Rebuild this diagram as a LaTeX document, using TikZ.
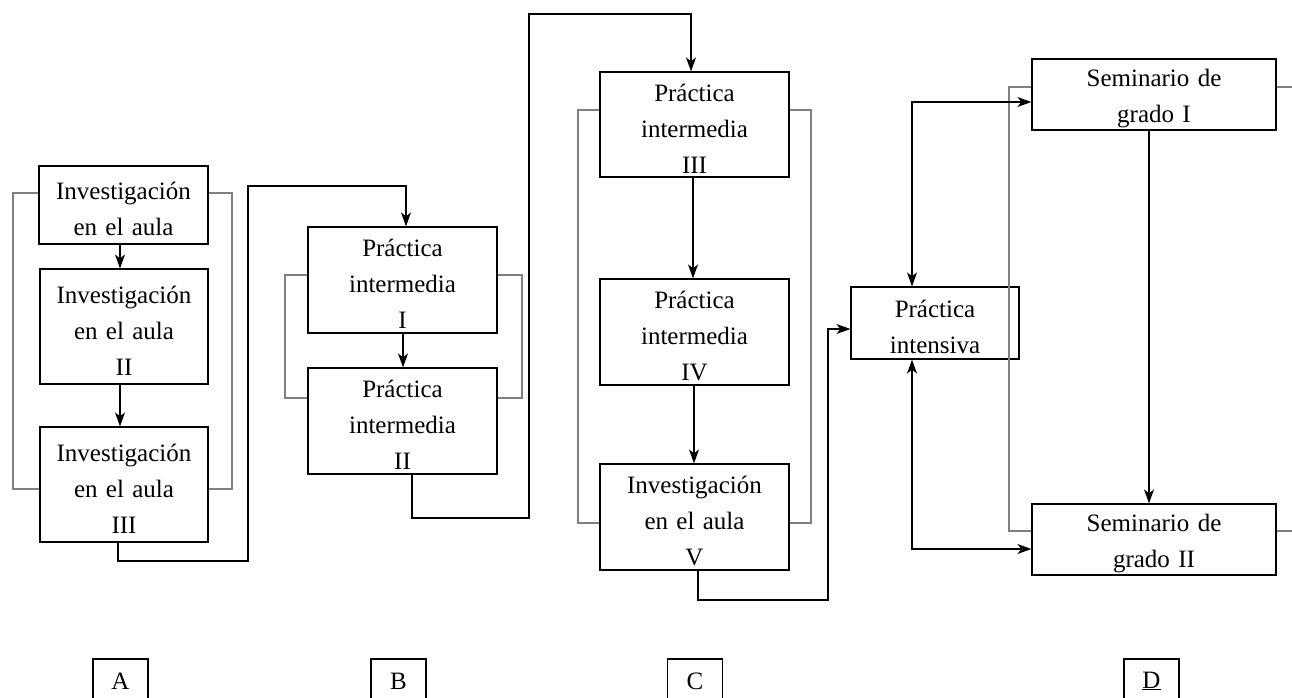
\documentclass[tikz,border=0pt]{standalone}
\usepackage{fontspec}
\setmainfont{Liberation Serif}
\usetikzlibrary{arrows.meta}
\begin{document}
\begin{tikzpicture}[x=1pt,y=-1pt,
  box/.style={draw=black,line width=1.2pt,rectangle,inner sep=0pt,align=center,
    font=\fontsize{25}{36}\selectfont,text height=25pt},
  lbl/.style={draw=black,line width=1.2pt,rectangle,inner sep=0pt,
    minimum width=55pt,minimum height=44pt,font=\fontsize{25}{28}\selectfont},
  conn/.style={line width=1.2pt,-{Stealth[length=14pt,width=10pt,inset=4pt]}},
  dconn/.style={line width=1.2pt,{Stealth[length=14pt,width=10pt,inset=4pt]}-{Stealth[length=14pt,width=10pt,inset=4pt]}},
  brk/.style={draw=gray,line width=1.1pt}]
\useasboundingbox (0,0) rectangle (1292,697);
\clip (0,0) rectangle (1292,697);

% nodes column A
\node[box,minimum width=169pt,minimum height=78pt,text width=169pt] (a1) at (123.5,205) {Investigación\\en el aula};
\node[box,minimum width=168pt,minimum height=115pt,text width=168pt] (a2) at (124,326.5) {Investigación\\en el aula\\II};
\node[box,minimum width=168pt,minimum height=115pt,text width=168pt] (a3) at (124,484.5) {Investigación\\en el aula\\III};
% column B
\node[box,minimum width=189pt,minimum height=106pt,text width=189pt] (b1) at (402.5,280) {Práctica\\intermedia\\I};
\node[box,minimum width=189pt,minimum height=106pt,text width=189pt] (b2) at (402.5,421) {Práctica\\intermedia\\II};
% column C
\node[box,minimum width=189pt,minimum height=105pt,text width=189pt] (c1) at (694.5,124.5) {Práctica\\intermedia\\III};
\node[box,minimum width=189pt,minimum height=106pt,text width=189pt] (c2) at (694.5,332) {Práctica\\intermedia\\IV};
\node[box,minimum width=189pt,minimum height=106pt,text width=189pt] (c3) at (694.5,517) {Investigación\\en el aula\\V};
% column D
\node[box,minimum width=168pt,minimum height=72pt,text width=168pt] (pi) at (935,323) {Práctica\\intensiva};
\node[box,minimum width=244pt,minimum height=71pt,text width=244pt] (s1) at (1154,94.5) {Seminario de\\grado I};
\node[box,minimum width=244pt,minimum height=71pt,text width=244pt] (s2) at (1154,539.5) {Seminario de\\grado II};

% labels
\node[lbl] (la) at (120.5,681) {A};
\node[lbl] (lb) at (398.5,681) {B};
\node[lbl] (lc) at (695,681) {C};
\node[lbl] (ld) at (1151.5,681) {\underline{D}};

% gray brackets
\draw[brk] (a1.west |- 0,193) -| (13,489) -- (a3.west |- 0,489);
\draw[brk] (a1.east |- 0,193) -| (232,489) -- (a3.east |- 0,489);
\draw[brk] (b1.west |- 0,275) -| (285,398) -- (b2.west |- 0,398);
\draw[brk] (b1.east |- 0,275) -| (522,398) -- (b2.east |- 0,398);
\draw[brk] (c1.west |- 0,110) -| (578,523) -- (c3.west |- 0,523);
\draw[brk] (c1.east |- 0,110) -| (811,523) -- (c3.east |- 0,523);
\draw[brk] (s1.west |- 0,87) -| (1009,531) -- (s2.west |- 0,531);
\draw[brk] (s1.east |- 0,87) -- (1300,87);
\draw[brk] (s2.east |- 0,531) -- (1300,531);

% connectors
\draw[conn] (a1.south -| 120,0) -- (a2.north -| 120,0);
\draw[conn] (a2.south -| 120,0) -- (a3.north -| 120,0);
\coordinate (ab1) at (118,561);
\coordinate (ab2) at (248,186);
\draw[conn] (a3.south -| ab1) -- (ab1) -| (ab2) -| (b1.north -| 406,0);
\draw[conn] (b1.south -| 403,0) -- (b2.north -| 403,0);
\coordinate (bc1) at (412,518);
\coordinate (bc2) at (529,14);
\draw[conn] (b2.south -| bc1) -- (bc1) -| (bc2) -| (c1.north -| 691,0);
\draw[conn] (c1.south -| 693,0) -- (c2.north -| 693,0);
\draw[conn] (c2.south -| 694,0) -- (c3.north -| 694,0);
\coordinate (cp1) at (698,600);
\coordinate (cp2) at (828,329);
\draw[conn] (c3.south -| cp1) -- (cp1) -| (cp2) -- (pi.west |- cp2);
\coordinate (pu) at (912,102);
\coordinate (pd) at (912,549);
\draw[dconn] (pi.north -| pu) -- (pu) -- (s1.west |- pu);
\draw[dconn] (pi.south -| pd) -- (pd) -- (s2.west |- pd);
\draw[conn] (s1.south -| 1149,0) -- (s2.north -| 1149,0);
\end{tikzpicture}
\end{document}
